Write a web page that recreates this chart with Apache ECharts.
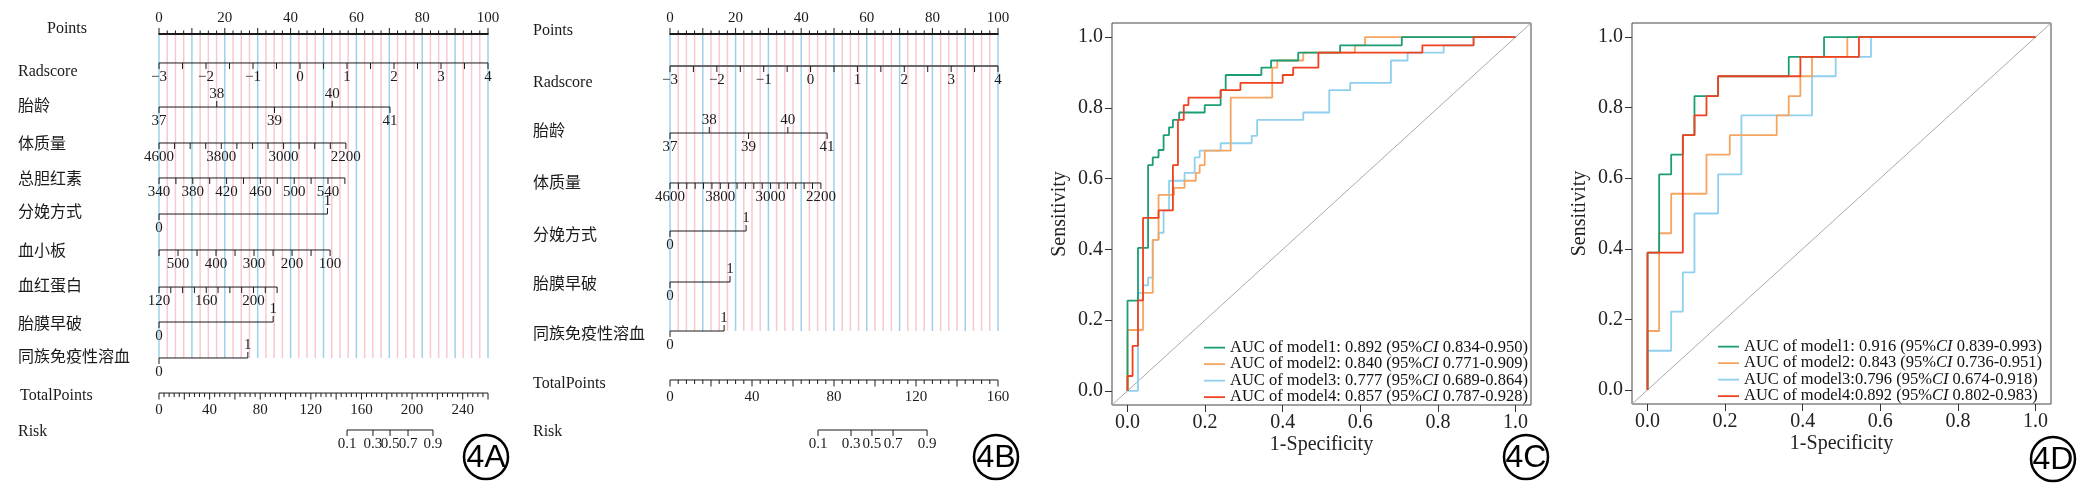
<!DOCTYPE html>
<html><head><meta charset="utf-8">
<script src="https://cdn.jsdelivr.net/npm/echarts/dist/echarts.min.js"></script>
<style>html,body{margin:0;padding:0;background:#fff}#c{width:2079px;height:485px}</style>
</head><body><div id="c"></div>
<script>
// ================= DATA =================
// ---- Nomogram 4A ----
const rowNamesA = ['Points','Radscore','胎龄','体质量','总胆红素','分娩方式','血小板','血红蛋白','胎膜早破','同族免疫性溶血','TotalPoints','Risk'];
const pointsLabels = [0,20,40,60,80,100];
const radscoreTicks = [-3,-2.5,-2,-1.5,-1,-0.5,0,0.5,1,1.5,2,2.5,3,3.5,4];
const radscoreLabels = [-3,-2,-1,0,1,2,3,4];
const radscorePtsA = [0,100];
const gaTicks = [37,38,39,40,41];
const gaLabelsBelow = [37,39,41];
const gaLabelsAbove = [38,40];
const gaPtsA = [0,70.2];
const weightTicksA = [4600,4400,4200,4000,3800,3600,3400,3200,3000,2800,2600,2400,2200];
const weightLabels = [4600,3800,3000,2200];
const weightPtsA = [0,56.8];
const bilTicksA = [340,360,380,400,420,440,460,480,500,520,540,560];
const bilLabelsA = [340,380,420,460,500,540];
const bilPtsA = [0,56.5];
const deliveryPtsA = [0,51.2];
const pltTicksA = [550,500,450,400,350,300,250,200,150,100];
const pltLabelsA = [500,400,300,200,100];
const pltPtsA = [0,52];
const hbTicksA = [120,130,140,150,160,170,180,190,200,210,220];
const hbLabelsA = [120,160,200];
const hbPtsA = [0,35.9];
const promPtsA = [0,34.7];
const hdnPtsA = [0,27];
const totalMaxA = 260;
const totalLabelsA = [0,40,80,120,160,200,240];
const riskLabels = [0.1,0.3,0.5,0.7,0.9];
const riskTotalA = [148.6,169.1,182.6,196.8,216.5];

// ---- Nomogram 4B ----
const rowNamesB = ['Points','Radscore','胎龄','体质量','分娩方式','胎膜早破','同族免疫性溶血','TotalPoints','Risk'];
const radscorePtsB = [0,100];
const gaPtsB = [0,47.9];
const weightTicksB = [4600,4467,4333,4200,4067,3933,3800,3667,3533,3400,3267,3133,3000,2867,2733,2600,2467,2333,2200];
const weightPtsB = [0,46];
const deliveryPtsB = [0,23.2];
const promPtsB = [0,18.3];
const hdnPtsB = [0,16.5];
const totalMaxB = 160;
const totalLabelsB = [0,40,80,120,160];
const riskTotalB = [72.2,88.3,98.5,108.8,125.4];

// ---- ROC 4C (training) : [1-specificity, sensitivity] staircase corners ----
const rocC1 = [[0,0],[0,0.255],[0.027,0.404],[0.053,0.638],[0.065,0.66],[0.08,0.681],[0.093,0.723],[0.107,0.745],[0.117,0.766],[0.133,0.787],[0.199,0.808],[0.24,0.85],[0.253,0.893],[0.345,0.914],[0.37,0.934],[0.44,0.956],[0.548,0.977],[0.707,1],[1,1]];
const rocC2 = [[0,0],[0,0.172],[0.04,0.277],[0.065,0.427],[0.08,0.554],[0.12,0.574],[0.147,0.594],[0.176,0.616],[0.186,0.638],[0.199,0.679],[0.266,0.829],[0.373,0.914],[0.386,0.934],[0.453,0.956],[0.586,0.977],[0.612,1],[1,1]];
const rocC3 = [[0,0],[0.027,0.277],[0.04,0.298],[0.053,0.32],[0.065,0.427],[0.08,0.447],[0.093,0.51],[0.107,0.594],[0.147,0.616],[0.173,0.66],[0.186,0.679],[0.24,0.7],[0.32,0.721],[0.334,0.766],[0.453,0.787],[0.52,0.85],[0.574,0.871],[0.679,0.934],[0.722,0.956],[0.815,0.977],[0.892,1],[1,1]];
const rocC4 = [[0,0],[0,0.042],[0.013,0.127],[0.027,0.256],[0.04,0.489],[0.08,0.51],[0.117,0.638],[0.13,0.766],[0.145,0.808],[0.157,0.829],[0.24,0.85],[0.291,0.871],[0.4,0.893],[0.427,0.914],[0.492,0.956],[0.76,0.977],[0.892,1],[1,1]];
const legendC = ['AUC of model1: 0.892 (95%CI 0.834-0.950)','AUC of model2: 0.840 (95%CI 0.771-0.909)','AUC of model3: 0.777 (95%CI 0.689-0.864)','AUC of model4: 0.857 (95%CI 0.787-0.928)'];

// ---- ROC 4D (validation) ----
const rocD1 = [[0,0],[0,0.389],[0.03,0.611],[0.061,0.667],[0.091,0.722],[0.121,0.833],[0.182,0.889],[0.364,0.944],[0.455,1],[1,1]];
const rocD2 = [[0,0],[0,0.167],[0.03,0.444],[0.061,0.556],[0.152,0.667],[0.212,0.722],[0.333,0.778],[0.364,0.833],[0.394,0.889],[0.424,0.944],[0.515,1],[1,1]];
const rocD3 = [[0,0],[0,0.111],[0.061,0.222],[0.091,0.333],[0.121,0.5],[0.182,0.611],[0.242,0.778],[0.424,0.889],[0.485,0.944],[0.576,1],[1,1]];
const rocD4 = [[0,0],[0,0.389],[0.091,0.722],[0.121,0.778],[0.152,0.833],[0.182,0.889],[0.394,0.944],[0.545,1],[1,1]];
const legendD = ['AUC of model1: 0.916 (95%CI 0.839-0.993)','AUC of model2: 0.843 (95%CI 0.736-0.951)','AUC of model3:0.796 (95%CI 0.674-0.918)','AUC of model4:0.892 (95%CI 0.802-0.983)'];

const rocTicks = [0,0.2,0.4,0.6,0.8,1.0];
const xTitle = '1-Specificity';
const yTitle = 'Sensitivity';
const panelTags = ['4A','4B','4C','4D'];

// ================= STYLE / LAYOUT =================
const FONT = "'Liberation Serif','Noto Sans CJK SC',serif";
const INK = '#1a1a1a';
const BLUE = '#9fd0ea';
const PINK = '#f8c9d1';
const COLORS = {m1:'#1b9e77', m2:'#f5a560', m3:'#8fd0ee', m4:'#ef4220'};
const LEGEND_ICON = 'path://M0,0M21,14M0,6.1L21,6.1L21,7.9L0,7.9Z';

function txt(x, y, s, size, align) {
  return {type:'text', x:x, y:y, style:{text:s, fontSize:size, fontFamily:FONT, fill:INK,
    align:align||'center', verticalAlign:'middle'}};
}
function seg(x1, y1, x2, y2, color, w) {
  return {type:'line', shape:{x1:x1, y1:y1, x2:x2, y2:y2}, style:{stroke:color||INK, lineWidth:w||1}};
}
function isMult(p, s) { return Math.abs(p / s - Math.round(p / s)) < 1e-6; }
function fmtNum(t) { return t < 0 ? '\u2212' + Math.abs(t) : String(t); }
function toPts(val, V) {
  const a = V.ticks[0], b = V.ticks[V.ticks.length - 1];
  return V.pts[0] + (val - a) * (V.pts[1] - V.pts[0]) / (b - a);
}

const PA = {
  rows: rowNamesA, xAxis:0, xAxisTP:1, yAxis:0,
  labelX: [47,18,18,18,18,18,18,18,18,18,20,18],
  labelDy: [-2,4.6,3.3,4.9,3.5,0.2,2.8,1.5,3.1,-0.3,1.4,1],
  axisDy: [3,-4.4,3.3,2.9,1.5,1.2,0.8,1.5,0.1,-0.3,-1.6,-1],
  lastVarRow: 9, tpRow: 10, riskRow: 11,
  totalMax: totalMaxA, totalLabels: totalLabelsA, riskTotal: riskTotalA,
  vars: [
    {row:1, ticks:radscoreTicks, below:radscoreLabels, above:[], pts:radscorePtsA},
    {row:2, ticks:gaTicks, below:gaLabelsBelow, above:gaLabelsAbove, pts:gaPtsA},
    {row:3, ticks:weightTicksA, below:weightLabels, above:[], pts:weightPtsA},
    {row:4, ticks:bilTicksA, below:bilLabelsA, above:[], pts:bilPtsA},
    {row:5, ticks:[0,1], below:[0], above:[1], pts:deliveryPtsA},
    {row:6, ticks:pltTicksA, below:pltLabelsA, above:[], pts:pltPtsA},
    {row:7, ticks:hbTicksA, below:hbLabelsA, above:[], pts:hbPtsA},
    {row:8, ticks:[0,1], below:[0], above:[1], pts:promPtsA},
    {row:9, ticks:[0,1], below:[0], above:[1], pts:hdnPtsA}
  ]
};
const PB = {
  rows: rowNamesB, xAxis:2, xAxisTP:3, yAxis:1,
  labelX: [533,533,533,533,533,533,533,533,533],
  labelDy: [0,1.9,0.75,2.6,4.5,3.4,3.25,2.1,0],
  axisDy: [3,-15.1,1.75,1.6,-0.5,0.4,-0.75,-1.9,-2],
  lastVarRow: 6, tpRow: 7, riskRow: 8,
  totalMax: totalMaxB, totalLabels: totalLabelsB, riskTotal: riskTotalB,
  vars: [
    {row:1, ticks:radscoreTicks, below:radscoreLabels, above:[], pts:radscorePtsB, lineColor:'#6a6a6a', lineWidth:2},
    {row:2, ticks:gaTicks, below:gaLabelsBelow, above:gaLabelsAbove, pts:gaPtsB},
    {row:3, ticks:weightTicksB, below:weightLabels, above:[], pts:weightPtsB},
    {row:4, ticks:[0,1], below:[0], above:[1], pts:deliveryPtsB},
    {row:5, ticks:[0,1], below:[0], above:[1], pts:promPtsB},
    {row:6, ticks:[0,1], below:[0], above:[1], pts:hdnPtsB}
  ]
};

function nomogramSeries(P) {
  const S = [];
  const base = {type:'custom', xAxisIndex:P.xAxis, yAxisIndex:P.yAxis, silent:true, clip:false};
  // reference vertical lines
  const refs = [];
  for (let p = 0; p <= 100 + 1e-9; p += 2.5) refs.push([p, 0]);
  S.push(Object.assign({}, base, {z:1, data:refs, renderItem:function(params, api){
    const p = api.value(0);
    const x = api.coord([p, 0])[0];
    const y1 = api.coord([0, 0])[1] + P.axisDy[0];
    const y2 = api.coord([0, P.lastVarRow])[1] + P.axisDy[P.lastVarRow];
    return seg(x, y1, x, y2, isMult(p, 10) ? BLUE : PINK, 1.5);
  }}));
  // row labels
  S.push(Object.assign({}, base, {z:3, data:P.rows.map(function(r, i){return [0, i];}), renderItem:function(params, api){
    const i = params.dataIndex;
    const y = api.coord([0, i])[1] + P.labelDy[i];
    return txt(P.labelX[i], y, P.rows[i], 16, 'left');
  }}));
  // Points axis
  S.push(Object.assign({}, base, {z:3, data:[[0,0]], renderItem:function(params, api){
    const y = api.coord([0, 0])[1] + P.axisDy[0];
    const X = function(p){ return api.coord([p, 0])[0]; };
    const ch = [seg(X(0) - 0.5, y, X(100) + 0.5, y, INK, 2)];
    for (let p = 0; p <= 100 + 1e-9; p += 2.5) {
      ch.push(seg(X(p), y, X(p), y - (isMult(p, 10) ? 6 : 3.5), INK, 1));
    }
    pointsLabels.forEach(function(p){ ch.push(txt(X(p), y - 16, String(p), 15)); });
    return {type:'group', children:ch};
  }}));
  // predictor axes
  S.push(Object.assign({}, base, {z:3, data:P.vars.map(function(v){return [0, v.row];}), renderItem:function(params, api){
    const V = P.vars[params.dataIndex];
    const r = V.row;
    const y = api.coord([0, r])[1] + P.axisDy[r];
    const X = function(val){ return api.coord([toPts(val, V), r])[0]; };
    const xs = V.ticks.map(X);
    const ch = [seg(Math.min.apply(null, xs), y, Math.max.apply(null, xs), y, V.lineColor || INK, V.lineWidth || 1)];
    V.ticks.forEach(function(t){
      const up = V.above.indexOf(t) >= 0;
      ch.push(seg(X(t), y, X(t), up ? y - 6 : y + 6, INK, 1));
    });
    V.below.forEach(function(t){ ch.push(txt(X(t), y + 14.5, fmtNum(t), 15)); });
    V.above.forEach(function(t){ ch.push(txt(X(t), y - 13, fmtNum(t), 15)); });
    return {type:'group', children:ch};
  }}));
  // Total points + risk
  S.push(Object.assign({}, base, {xAxisIndex:P.xAxisTP, z:3, data:[[0,0]], renderItem:function(params, api){
    const X = function(t){ return api.coord([t, 0])[0]; };
    const yT = api.coord([0, P.tpRow])[1] + P.axisDy[P.tpRow];
    const ch = [seg(X(0), yT, X(P.totalMax), yT, INK, 1)];
    for (let t = 0; t <= P.totalMax + 1e-9; t += 4) {
      ch.push(seg(X(t), yT, X(t), yT + (isMult(t, 20) ? 6.5 : 4), INK, 1));
    }
    P.totalLabels.forEach(function(t){ ch.push(txt(X(t), yT + 17, String(t), 15)); });
    const yR = api.coord([0, P.riskRow])[1] + P.axisDy[P.riskRow];
    const rx = P.riskTotal.map(X);
    ch.push(seg(rx[0], yR, rx[rx.length - 1], yR, INK, 1));
    rx.forEach(function(x, k){
      ch.push(seg(x, yR, x, yR + 6, INK, 1));
      ch.push(txt(x, yR + 14.5, String(riskLabels[k]), 15));
    });
    return {type:'group', children:ch};
  }}));
  return S;
}

function rocX(g) {
  return {gridIndex:g, type:'value', min:-0.04, max:1.04, position:'bottom',
    axisLine:{show:false, onZero:false}, splitLine:{show:false},
    axisTick:{show:true, inside:false, length:7, customValues:rocTicks, lineStyle:{color:'#333', width:1}},
    axisLabel:{show:true, customValues:rocTicks, formatter:function(v){return Number(v).toFixed(1);},
      fontSize:20, fontFamily:FONT, color:'#222', margin:8},
    name:xTitle, nameLocation:'middle', nameGap:30, nameMoveOverlap:false,
    nameTextStyle:{fontSize:20, fontFamily:FONT, color:'#222'}};
}
function rocY(g) {
  return {gridIndex:g, type:'value', min:-0.04, max:1.04, position:'left',
    axisLine:{show:false, onZero:false}, splitLine:{show:false},
    axisTick:{show:true, inside:false, length:7, customValues:rocTicks, lineStyle:{color:'#333', width:1}},
    axisLabel:{show:true, customValues:rocTicks, formatter:function(v){return Number(v).toFixed(1);},
      fontSize:20, fontFamily:FONT, color:'#222', margin:9},
    name:yTitle, nameLocation:'middle', nameGap:42, nameRotate:90, nameMoveOverlap:false,
    nameTextStyle:{fontSize:20, fontFamily:FONT, color:'#222'}};
}
function rocSeries(xi, yi, data, name, color) {
  return {type:'line', name:name, xAxisIndex:xi, yAxisIndex:yi, data:data, step:'end',
    symbol:'none', showSymbol:false, lineStyle:{color:color, width:1.8}, itemStyle:{color:color}, z:3, silent:true};
}
function diagSeries(xi, yi) {
  return {type:'line', name:'diag'+xi, xAxisIndex:xi, yAxisIndex:yi, data:[[-0.04,-0.04],[1.04,1.04]],
    symbol:'none', showSymbol:false, lineStyle:{color:'#aaaaaa', width:1}, z:2, silent:true};
}
function legendOf(names, left, top) {
  return {data:names.map(function(n){ return {name:n, icon:LEGEND_ICON}; }),
    orient:'vertical', left:left, top:top, itemWidth:21, itemHeight:14, itemGap:0, padding:0,
    selectedMode:false,
    formatter:function(n){ return n.replace('CI', '{i|CI}'); },
    textStyle:{fontFamily:FONT, fontSize:16.5, color:'#111', lineHeight:15.3,
      rich:{i:{fontStyle:'italic', fontFamily:FONT, fontSize:16.5, lineHeight:15.3, color:'#111'}}}};
}

const tagPos = [[486,457],[996,457],[1526,457],[2053,459]];
const graphics = [];
panelTags.forEach(function(t, i){
  graphics.push({type:'circle', shape:{cx:tagPos[i][0], cy:tagPos[i][1], r:22}, style:{fill:'none', stroke:'#000', lineWidth:2.5}});
  graphics.push({type:'text', x:tagPos[i][0], y:tagPos[i][1] + 1, style:{text:t, fontSize:32, fontFamily:"'Liberation Sans',Arial,sans-serif", fill:'#000', align:'center', verticalAlign:'middle'}});
});

const option = {
  animation:false,
  backgroundColor:'#ffffff',
  grid:[
    {left:159, top:12.82, width:329, height:436.36, outerBoundsMode:'none'},
    {left:670, top:5.94, width:328, height:451.125, outerBoundsMode:'none'},
    {left:1112, top:23, width:419, height:382, show:true, borderColor:'#444', borderWidth:1, backgroundColor:'transparent', outerBoundsMode:'none'},
    {left:1632, top:23, width:419, height:381, show:true, borderColor:'#444', borderWidth:1, backgroundColor:'transparent', outerBoundsMode:'none'}
  ],
  xAxis:[
    {gridIndex:0, type:'value', min:0, max:100, show:false},
    {gridIndex:0, type:'value', min:0, max:totalMaxA, show:false},
    {gridIndex:1, type:'value', min:0, max:100, show:false},
    {gridIndex:1, type:'value', min:0, max:totalMaxB, show:false},
    rocX(2), rocX(3)
  ],
  yAxis:[
    {gridIndex:0, type:'value', min:-0.5, max:rowNamesA.length - 0.5, inverse:true, show:false},
    {gridIndex:1, type:'value', min:-0.5, max:rowNamesB.length - 0.5, inverse:true, show:false},
    rocY(2), rocY(3)
  ],
  legend:[legendOf(legendC, 1204, 339.4), legendOf(legendD, 1718, 338.4)],
  graphic: graphics,
  series: [].concat(
    nomogramSeries(PA),
    nomogramSeries(PB),
    [diagSeries(4,2),
     rocSeries(4,2,rocC3,legendC[2],COLORS.m3),
     rocSeries(4,2,rocC2,legendC[1],COLORS.m2),
     rocSeries(4,2,rocC1,legendC[0],COLORS.m1),
     rocSeries(4,2,rocC4,legendC[3],COLORS.m4),
     diagSeries(5,3),
     rocSeries(5,3,rocD3,legendD[2],COLORS.m3),
     rocSeries(5,3,rocD2,legendD[1],COLORS.m2),
     rocSeries(5,3,rocD1,legendD[0],COLORS.m1),
     rocSeries(5,3,rocD4,legendD[3],COLORS.m4)]
  )
};
const chart = echarts.init(document.getElementById('c'), null, {renderer:'canvas', width:2079, height:485});
chart.setOption(option);
</script>
</body></html>
